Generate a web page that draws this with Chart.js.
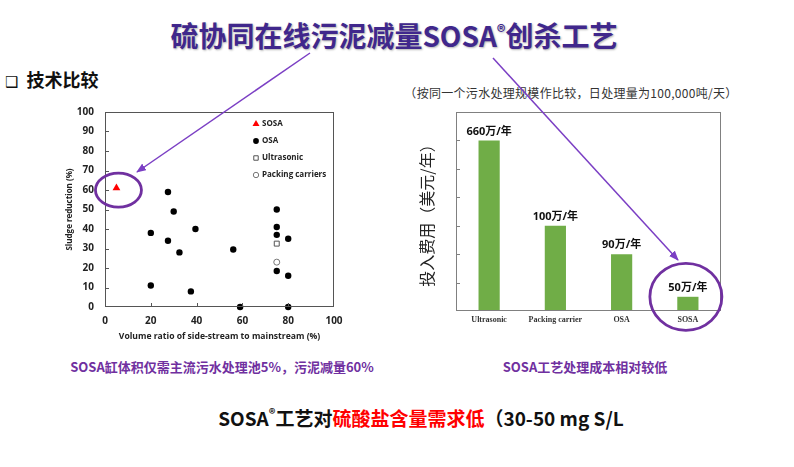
<!DOCTYPE html>
<html>
<head>
<meta charset="utf-8">
<script src="https://cdn.jsdelivr.net/npm/chart.js@4.4.1/dist/chart.umd.min.js"></script>
<style>
  body { margin: 0; width: 794px; height: 467px; position: relative; background: #fff; overflow: hidden;
         font-family: "Noto Sans CJK SC", "Noto Sans", sans-serif; }
  .t { position: absolute; white-space: nowrap; transform: translate(-50%, -50%); }
  .wrap { position: absolute; }
  #title { left: 394px; top: 35px; font-size: 28px; font-weight: bold; color: #40278C;
           text-shadow: 1px 1px 2px rgba(0,0,0,0.3); }
  #title sup { font-size: 17px; vertical-align: 9px; line-height: 0; }
  #sec { position: absolute; left: 5px; top: 66px; font-size: 18px; font-weight: bold; color: #111; white-space: nowrap; }
  #sec span { font-family: "DejaVu Sans"; font-size: 15px; margin-right: 8px; }
  #note { left: 571px; top: 92px; font-size: 12px; letter-spacing: 0.3px; color: #333; }
  .cap { font-size: 13px; font-weight: bold; color: #7030A0; }
  #bottom { left: 421px; top: 417px; font-size: 19px; font-weight: bold; color: #111; }
  #bottom sup { font-size: 13px; vertical-align: 7px; line-height: 0; }
  #bottom .red { color: #FF0000; }
  svg { position: absolute; left: 0; top: 0; pointer-events: none; }
</style>
</head>
<body>
<div id="title" class="t">硫协同在线污泥减量SOSA<sup>®</sup>创杀工艺</div>
<div id="sec"><span>❑</span>技术比较</div>
<div id="note" class="t">（按同一个污水处理规模作比较，日处理量为100,000吨/天）</div>

<div class="wrap" style="left:55px;top:100px;width:290px;height:245px"><canvas id="scatterChart"></canvas></div>
<div class="wrap" style="left:400px;top:100px;width:340px;height:235px"><canvas id="barChart"></canvas></div>

<div class="t cap" style="left:222px;top:366px">SOSA缸体积仅需主流污水处理池5%，污泥减量60%</div>
<div class="t cap" style="left:585px;top:366px">SOSA工艺处理成本相对较低</div>
<div id="bottom" class="t">SOSA<sup>®</sup>工艺对<span class="red">硫酸盐含量需求低</span>（30-50 mg S/L</div>

<svg width="794" height="467">
  <defs>
    <marker id="head" markerWidth="10" markerHeight="8" refX="9" refY="4" orient="auto" markerUnits="userSpaceOnUse">
      <path d="M0,0 L10,4 L0,8 Z" fill="#7B3FC4"></path>
    </marker>
  </defs>
  <line x1="310" y1="53" x2="137" y2="172" stroke="#7B3FC4" stroke-width="1.5" marker-end="url(#head)"></line>
  <line x1="493" y1="58" x2="678" y2="260" stroke="#7B3FC4" stroke-width="1.5" marker-end="url(#head)"></line>
</svg>

<script>
// Scatter data: volume ratio (%) vs sludge reduction (%)
const sosaPoints = [{ x: 5, y: 61 }];
const osaPoints = [
  { x: 27.5, y: 59 }, { x: 30, y: 49 }, { x: 20, y: 38 }, { x: 27.5, y: 34 },
  { x: 32.5, y: 28 }, { x: 39.5, y: 40 }, { x: 20, y: 11 }, { x: 37.5, y: 8 },
  { x: 56, y: 29.5 }, { x: 59, y: 0 }, { x: 75, y: 50 }, { x: 75, y: 41 },
  { x: 75, y: 37 }, { x: 80, y: 35 }, { x: 75, y: 18.5 }, { x: 80, y: 16 },
  { x: 80, y: 0 },
];
const ultrasonicPoints = [{ x: 75, y: 32.5 }];
const packingPoints = [{ x: 75, y: 23 }];

// Bar data (schematic heights as drawn) and their value labels
const costCategories = ["Ultrasonic", "Packing carrier", "OSA", "SOSA"];
const costHeights = [6, 3, 2, 0.5];
const costLabels = ["660万/年", "100万/年", "90万/年", "50万/年"];

const PURPLE = "#7030A0";

// frame around the chart area plus inward tick marks
function framePlugin(color, tickScales) {
  return {
    id: "frame_ticks",
    afterDraw(chart) {
      const { ctx, chartArea: a, scales } = chart;
      ctx.save();
      ctx.strokeStyle = color;
      ctx.lineWidth = 1;
      ctx.strokeRect(a.left + 0.5, a.top + 0.5, a.right - a.left - 1, a.bottom - a.top - 1);
      ctx.beginPath();
      tickScales.forEach((id) => {
        const s = scales[id];
        s.ticks.forEach((t) => {
          if (t.value <= s.min || t.value >= s.max) return;
          const p = Math.round(s.getPixelForValue(t.value)) + 0.5;
          if (s.isHorizontal()) {
            ctx.moveTo(p, a.bottom);
            ctx.lineTo(p, a.bottom - 4);
          } else {
            ctx.moveTo(a.left, p);
            ctx.lineTo(a.left + 4, p);
          }
        });
      });
      ctx.stroke();
      ctx.restore();
    },
  };
}

const tickFont = { family: "'Open Sans', 'Noto Sans'", size: 10, weight: "bold" };

new Chart(document.getElementById("scatterChart"), {
  type: "scatter",
  data: {
    datasets: [
      { label: "SOSA", data: sosaPoints, pointStyle: "triangle", pointRadius: 4.5,
        backgroundColor: "#FF0000", borderColor: "#FF0000", borderWidth: 0, clip: false },
      { label: "OSA", data: osaPoints, pointStyle: "circle", pointRadius: 3.2,
        backgroundColor: "#000", borderColor: "#000", borderWidth: 0, clip: false },
      { label: "Ultrasonic", data: ultrasonicPoints, pointStyle: "rect", pointRadius: 3.5,
        backgroundColor: "#fff", borderColor: "#555", borderWidth: 1, clip: false },
      { label: "Packing carriers", data: packingPoints, pointStyle: "circle", pointRadius: 3,
        backgroundColor: "#fff", borderColor: "#777", borderWidth: 1, clip: false },
    ],
  },
  options: {
    responsive: true,
    maintainAspectRatio: false,
    animation: false,
    layout: { padding: { top: 12, right: 11, left: 0, bottom: 0 } },
    scales: {
      x: {
        min: 0, max: 100,
        ticks: { stepSize: 20, font: tickFont, color: "#222", padding: 8, maxRotation: 0 },
        grid: { drawOnChartArea: false, drawTicks: false },
        border: { display: false },
        title: { display: true, text: "Volume ratio of side-stream to mainstream (%)",
                 font: { family: "'Open Sans', 'Noto Sans'", size: 8.6, weight: "bold" }, color: "#222",
                 padding: { top: 0, bottom: 3 } },
        afterFit(scale) {
          scale.height = 38;
          scale.paddingLeft = 0;
          scale.paddingRight = 0;
        },
      },
      y: {
        min: 0, max: 100,
        ticks: { stepSize: 10, font: tickFont, color: "#222", padding: 11 },
        grid: { drawOnChartArea: false, drawTicks: false },
        border: { display: false },
        title: { display: true, text: "Sludge reduction (%)",
                 font: { family: "'Open Sans', 'Noto Sans'", size: 8, weight: "bold" }, color: "#222",
                 padding: { top: 10, bottom: 0 } },
        afterFit(scale) {
          scale.width = 50;
          scale.paddingTop = 0;
          scale.paddingBottom = 0;
        },
      },
    },
    plugins: { legend: { display: false }, tooltip: { enabled: false } },
  },
  plugins: [
    framePlugin("#555", ["x", "y"]),
    {
      id: "inner_legend",
      afterDraw(chart) {
        const { ctx, chartArea: a } = chart;
        ctx.save();
        ctx.font = "bold 8px 'Open Sans', 'Noto Sans'";
        ctx.fillStyle = "#222";
        ctx.textBaseline = "middle";
        chart.data.datasets.forEach((ds, i) => {
          const mx = a.left + 151;
          const my = a.top + 12 + i * 17;
          ctx.save();
          ctx.fillStyle = ds.backgroundColor;
          ctx.strokeStyle = ds.borderColor;
          ctx.lineWidth = ds.borderWidth;
          Chart.helpers.drawPoint(ctx, {
            pointStyle: ds.pointStyle, radius: ds.pointRadius * 0.9,
            borderWidth: ds.borderWidth, rotation: 0,
          }, mx, my);
          ctx.restore();
          ctx.fillText(ds.label, mx + 6, my);
        });
        ctx.restore();
      },
    },
    {
      id: "sosa_ring",
      afterDraw(chart) {
        const pt = chart.getDatasetMeta(0).data[0];
        const { ctx } = chart;
        ctx.save();
        ctx.strokeStyle = PURPLE;
        ctx.lineWidth = 2.8;
        ctx.beginPath();
        ctx.ellipse(pt.x + 2, pt.y + 2, 23, 17, 0, 0, Math.PI * 2);
        ctx.stroke();
        ctx.restore();
      },
    },
  ],
});

new Chart(document.getElementById("barChart"), {
  type: "bar",
  data: {
    labels: costCategories,
    datasets: [{
      data: costHeights,
      backgroundColor: "#70AD47",
      categoryPercentage: 1,
      barPercentage: 0.32,
    }],
  },
  options: {
    responsive: true,
    maintainAspectRatio: false,
    animation: false,
    layout: { padding: { top: 12, right: 19, left: 0, bottom: 0 } },
    scales: {
      x: {
        ticks: { font: { family: "'Liberation Serif'", size: 8, weight: "bold" }, color: "#333", padding: 4 },
        grid: { drawOnChartArea: false, drawTicks: false },
        border: { display: false },
        afterFit(scale) {
          scale.height = 24;
          scale.paddingLeft = 0;
          scale.paddingRight = 0;
        },
      },
      y: {
        min: 0, max: 7,
        ticks: { display: false, stepSize: 1 },
        grid: { drawOnChartArea: false, drawTicks: false },
        border: { display: false },
        title: { display: true, text: "投入费用（美元/年）",
                 font: { family: "'Noto Sans CJK SC'", size: 16 }, color: "#222",
                 padding: { top: 17, bottom: 0 } },
        afterFit(scale) {
          scale.width = 56;
          scale.paddingTop = 0;
          scale.paddingBottom = 0;
        },
      },
    },
    plugins: { legend: { display: false }, tooltip: { enabled: false } },
  },
  plugins: [
    framePlugin("#808080", ["y"]),
    {
      id: "value_labels",
      afterDatasetsDraw(chart) {
        const { ctx } = chart;
        ctx.save();
        ctx.font = "bold 11px 'Open Sans', 'Noto Sans CJK SC'";
        ctx.fillStyle = "#111";
        ctx.textAlign = "center";
        ctx.textBaseline = "middle";
        chart.getDatasetMeta(0).data.forEach((bar, i) => {
          ctx.fillText(costLabels[i], bar.x, bar.y - 9);
        });
        ctx.restore();
      },
    },
    {
      id: "sosa_ring",
      afterDraw(chart) {
        const bars = chart.getDatasetMeta(0).data;
        const bar = bars[bars.length - 1];
        const { ctx } = chart;
        ctx.save();
        ctx.strokeStyle = PURPLE;
        ctx.lineWidth = 2.8;
        ctx.beginPath();
        ctx.ellipse(bar.x - 2, bar.y, 36, 33.5, 0, 0, Math.PI * 2);
        ctx.stroke();
        ctx.restore();
      },
    },
  ],
});
</script>
</body>
</html>
